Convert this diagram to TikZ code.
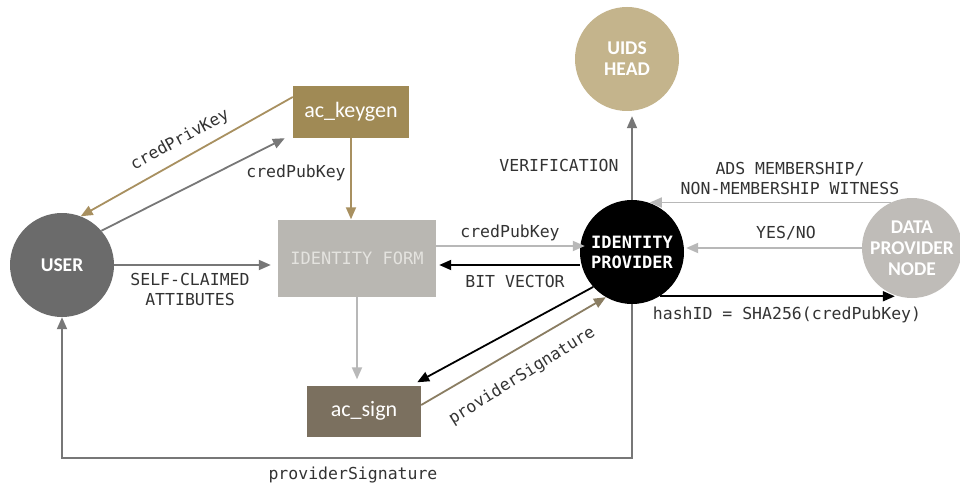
\documentclass[tikz,border=0pt]{standalone}
\usepackage{fontspec}
\setmonofont{DejaVu Sans Mono}
\newfontfamily\nodefont{Carlito}
\usetikzlibrary{arrows.meta,calc}
\definecolor{cUser}{HTML}{6B6B6B}
\definecolor{cKey}{HTML}{A08A55}
\definecolor{cForm}{HTML}{B9B7B2}
\definecolor{cFormTxt}{HTML}{E4E3DF}
\definecolor{cSign}{HTML}{7B705F}
\definecolor{cUids}{HTML}{C4B48C}
\definecolor{cData}{HTML}{BFBCB8}
\definecolor{cGold}{HTML}{A89060}
\definecolor{cBrown}{HTML}{8A7D62}
\definecolor{cGray}{HTML}{777777}
\definecolor{cLight}{HTML}{B8B8B8}
\definecolor{cLbl}{HTML}{333333}
\begin{document}
\begin{tikzpicture}[x=1pt,y=-1pt,
  circ/.style={circle,inner sep=0pt,align=center,text=white,font=\nodefont\bfseries\fontsize{19.5}{21}\selectfont},
  box/.style={rectangle,inner sep=0pt,align=center,text=white,font=\nodefont\fontsize{22}{24}\selectfont},
  lbl/.style={text=cLbl,align=center,font=\ttfamily\fontsize{16.5}{20}\selectfont,inner sep=0pt},
  arr/.style={line width=1.8pt,-{Triangle[length=12pt,width=10pt]}},
]
\useasboundingbox (0,0) rectangle (960,489);
\fill[white] (0,0) rectangle (960,489);

% nodes
\node[circ,fill=cUser,minimum size=104pt] (user) at (62,265) {USER};
\node[box,fill=cKey,minimum width=116pt,minimum height=52pt] (keygen) at (351,112) {ac\_keygen};
\node[box,fill=cForm,text=cFormTxt,minimum width=158pt,minimum height=77pt,font=\ttfamily\fontsize{17}{20}\selectfont] (form) at (357,258) {IDENTITY FORM};
\node[box,fill=cSign,minimum width=114pt,minimum height=51pt] (sign) at (364,411) {ac\_sign};
\node[circ,fill=black,minimum size=104pt,font=\ttfamily\bfseries\fontsize{17}{20}\selectfont] (idp) at (632,252) {IDENTITY\\PROVIDER};
\node[circ,fill=cUids,minimum size=104pt] (uids) at (627,59) {UIDS\\HEAD};
\node[circ,fill=cData,minimum size=100pt] (data) at (912,248) {DATA\\PROVIDER\\NODE};

% connectors
\draw[arr,cGold] ($(keygen.west)+(0,-15)$) -- (user.69);
\draw[arr,cGray] (user.41) -- ($(keygen.south west)+(-8,0)$);
\draw[arr,cGold] (keygen.south) -- (keygen.south |- form.north);
\draw[arr,cGray,shorten >=7pt] (user.east) -- (form.west |- user.east);
\draw[arr,cLight] ($(form.east)+(0,-12)$) -- ($(idp.west)+(5,-6)$);
\draw[arr,black,shorten >=3pt] ($(idp.west)+(0,13)$) -- ($(form.east)+(0,7)$);
\draw[arr,cLight,shorten >=6pt] (form.south) -- (form.south |- sign.north);
\draw[arr,black] (idp.222) -- ($(sign.north east)+(-4,-3)$);
\draw[arr,cBrown] ($(sign.east)+(0,-6)$) -- (idp.240);
\draw[arr,cGray,shorten >=5pt] (idp.north) -- (idp.north |- uids.south);
\draw[arr,cLight] (data.115) -- (data.115 -| idp.70);
\draw[arr,cLight,shorten >=2pt] (data.west) -- (data.west -| idp.east);
\draw[arr,black] (idp.-58) -- (idp.-58 -| data.250);
\draw[arr,cGray] (idp.south) -- ++(0,154) coordinate (bend) -| (user.south);

% labels
\node[lbl,rotate=28.6] (lPriv) at (180,140) {credPrivKey};
\node[lbl] (lPub1) at (296,173) {credPubKey};
\node[lbl] (lSelf) at (190,289) {SELF-CLAIMED\\ATTIBUTES};
\node[lbl] (lPub2) at (510,233) {credPubKey};
\node[lbl] (lBit) at (515,281) {BIT VECTOR};
\node[lbl] (lVer) at (559,165) {VERIFICATION};
\node[lbl] (lAds) at (790,178) {ADS MEMBERSHIP/\\NON-MEMBERSHIP WITNESS};
\node[lbl] (lYes) at (786,233) {YES/NO};
\node[lbl] (lHash) at (787,315) {hashID = SHA256(credPubKey)};
\node[lbl,rotate=32] (lSig1) at (522,376) {providerSignature};
\node[lbl] (lSig2) at (353,475) {providerSignature};
\end{tikzpicture}
\end{document}
